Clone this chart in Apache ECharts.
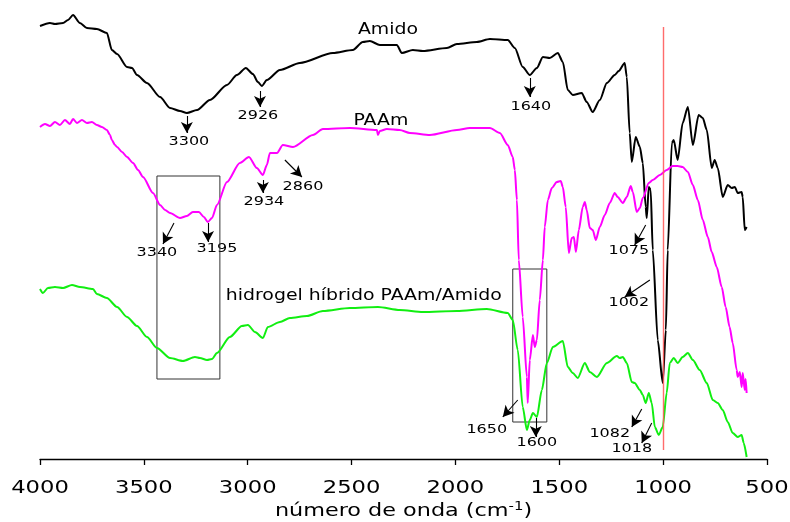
<!DOCTYPE html>
<html>
<head>
<meta charset="utf-8">
<script src="https://cdn.jsdelivr.net/npm/echarts@6/dist/echarts.min.js"></script>
<style>
  html, body { margin: 0; padding: 0; background: #fff; }
  #chart { width: 790px; height: 522px; }
</style>
</head>
<body>
<div id="chart"></div>
<script>
// FTIR spectra: [wavenumber (cm-1), transmittance (arbitrary units, stacked)]
const amido = [
  [4000,433],[3952,436],[3928,435],[3889,436],[3865,439],[3841,444],[3808,436],[3774,431],
  [3726,430],[3678,426],[3654,409],[3629,405],[3581,392],[3557,391],[3533,384],[3485,376],
  [3422,362],[3374,351],[3326,348],[3293,346],[3244,349],[3182,359],[3100,374],[3052,384],
  [3009,391],[2975,385],[2951,377],[2932,373],[2908,379],[2845,389],[2749,396],[2590,406],
  [2494,409],[2446,417],[2412,418],[2364,414],[2282,414],[2258,406],[2205,409],[2157,408],
  [2041,411],[1993,415],[1897,417],[1834,420],[1748,419],[1714,411],[1676,392],[1642,384],
  [1608,391],[1579,402],[1546,401],[1507,406],[1483,397],[1459,369],[1435,364],[1392,366],
  [1368,357],[1339,347],[1305,359],[1271,376],[1233,384],[1214,388],[1185,396],[1175,382],
  [1161,326],[1151,297],[1132,322],[1112,312],[1098,296],[1084,252],[1079,241],[1069,272],
  [1060,269],[1050,209],[1026,119],[1002,76],[987,129],[978,209],[958,316],[949,319],
  [930,299],[906,336],[881,352],[857,314],[829,344],[809,341],[790,329],[766,291],
  [752,299],[737,291],[713,262],[689,274],[670,271],[655,272],[641,266],[622,267],
  [617,262],[607,229],[598,232]
];

const paam = [
  [4000,332],[3976,335],[3952,333],[3928,337],[3904,334],[3880,339],[3856,335],[3841,340],
  [3822,336],[3798,339],[3774,336],[3750,337],[3726,334],[3702,332],[3678,329],[3663,324],
  [3654,319],[3639,314],[3629,312],[3605,307],[3581,302],[3552,296],[3528,289],[3504,282],
  [3456,266],[3422,254],[3398,249],[3374,246],[3326,241],[3293,243],[3264,247],[3235,247],
  [3211,242],[3192,237],[3172,241],[3148,254],[3100,277],[3038,296],[2994,302],[2956,291],
  [2927,284],[2908,294],[2893,306],[2859,306],[2831,314],[2782,312],[2686,324],[2638,330],
  [2508,331],[2378,329],[2373,324],[2364,328],[2330,330],[2268,329],[2219,326],[2123,324],
  [1993,329],[1931,331],[1834,331],[1786,326],[1748,314],[1724,302],[1714,289],[1704,259],
  [1695,199],[1676,142],[1656,82],[1652,56],[1642,99],[1627,124],[1618,112],[1608,119],
  [1594,159],[1579,199],[1570,232],[1555,259],[1536,271],[1512,277],[1493,278],[1483,272],
  [1469,252],[1454,206],[1440,221],[1430,222],[1420,207],[1406,229],[1387,252],[1377,257],
  [1368,249],[1353,231],[1339,229],[1324,219],[1305,232],[1281,244],[1257,256],[1233,266],
  [1219,262],[1194,256],[1175,262],[1156,273],[1146,267],[1127,247],[1112,251],[1098,261],
  [1069,276],[1050,279],[1016,284],[983,289],[954,293],[930,293],[906,292],[881,287],
  [857,274],[833,259],[809,239],[785,222],[766,207],[742,192],[718,172],[699,152],
  [680,132],[665,116],[646,89],[641,82],[631,87],[622,72],[617,86],[607,69],
  [603,80],[598,66]
];

const hidrogel = [
  [4000,170],[3986,166],[3962,171],[3928,172],[3889,171],[3846,174],[3808,172],[3745,170],
  [3726,165],[3678,161],[3629,152],[3581,142],[3533,133],[3485,122],[3437,111],[3374,101],
  [3312,98],[3254,102],[3230,101],[3196,99],[3172,100],[3148,106],[3086,122],[3028,133],
  [2999,134],[2965,127],[2927,121],[2903,132],[2845,137],[2797,141],[2715,143],[2638,148],
  [2508,151],[2373,152],[2268,149],[2157,147],[1993,148],[1849,150],[1748,146],[1724,139],
  [1700,109],[1676,52],[1656,29],[1642,39],[1627,46],[1608,42],[1584,69],[1560,96],
  [1531,112],[1483,118],[1459,92],[1435,86],[1411,81],[1377,96],[1353,87],[1319,82],
  [1271,96],[1223,103],[1209,101],[1194,102],[1175,96],[1151,77],[1137,76],[1112,69],
  [1098,64],[1084,56],[1069,66],[1055,56],[1040,32],[1021,24],[1002,32],[983,66],
  [968,96],[949,101],[930,96],[906,102],[881,106],[857,99],[824,89],[790,76],
  [761,59],[737,56],[713,49],[689,37],[665,26],[641,22],[622,24],[612,16],[598,2]
];

// x-axis ticks (cm-1)
const xTicks = [4000, 3500, 3000, 2500, 2000, 1500, 1000, 500];

// Series names drawn next to each trace: [text, wavenumber, y]
const traceNames = [
  ['Amido', 2325, 429],
  ['PAAm', 2359, 338],
  ['hidrogel híbrido PAAm/Amido', 2441, 163]
];

// Band assignments: [label, labelX, labelY, arrowFromX, arrowFromY, arrowToX, arrowToY]
const bands = [
  ['3300', 3283, 317, 3293, 343, 3293, 326],
  ['2926', 2951, 343, 2941, 368, 2941, 352],
  ['1640', 1637, 352, 1642, 381, 1642, 362],
  ['2934', 2922, 257, 2927, 279, 2927, 266],
  ['2860', 2734, 272, 2821, 299, 2739, 282],
  ['3340', 3437, 206, 3355, 236, 3408, 215],
  ['3195', 3148, 210, 3191, 236, 3191, 217],
  ['1075', 1165, 208, 1084, 234, 1137, 214],
  ['1002', 1165, 156, 1064, 179, 1185, 162],
  ['1650', 1849, 29, 1700, 59, 1772, 42],
  ['1600', 1608, 16, 1613, 41, 1613, 22],
  ['1082', 1257, 25, 1103, 50, 1151, 32],
  ['1018', 1151, 10, 1055, 36, 1103, 16]
];

// Highlighted regions: [x1, y1, x2, y2]
const boxes = [
  [3437, 80, 3134, 283],
  [1724, 37, 1560, 190]
];

// Reference line at 1000 cm-1: [x, yTop, yBottom]
const refLine = [1000, 432, 9];

const FONT = 'DejaVu Sans';
const chart = echarts.init(document.getElementById('chart'), null, { renderer: 'canvas' });

const lineSeries = (name, data, color) => ({
  name, type: 'line', data,
  showSymbol: false, symbol: 'none',
  smooth: 0.25, smoothMonotone: 'x',
  lineStyle: { color, width: 2 },
  itemStyle: { color },
  silent: true, animation: false
});

// Black trace carries the band arrows and the highlighted boxes
const amidoSeries = lineSeries('Amido', amido, '#000000');
amidoSeries.markLine = {
  silent: true,
  symbol: ['none', 'arrow'],
  symbolSize: [9, 11],
  label: { show: false },
  lineStyle: { color: '#000', width: 1.1, type: 'solid' },
  data: bands.map(b => [{ coord: [b[3], b[4]] }, { coord: [b[5], b[6]] }])
};
amidoSeries.markArea = {
  silent: true,
  itemStyle: { color: 'rgba(0,0,0,0)', borderColor: '#333', borderWidth: 1 },
  data: boxes.map(b => [{ coord: [b[0], b[1]] }, { coord: [b[2], b[3]] }])
};

// Magenta trace carries the 1000 cm-1 reference line
const paamSeries = lineSeries('PAAm', paam, '#ff00ff');
paamSeries.markLine = {
  silent: true,
  symbol: ['none', 'none'],
  label: { show: false },
  lineStyle: { color: '#ff5c5c', width: 1.4, type: 'solid', opacity: 0.9 },
  data: [[{ coord: [refLine[0], refLine[1]] }, { coord: [refLine[0], refLine[2]] }]]
};

const option = {
  animation: false,
  backgroundColor: '#ffffff',
  grid: { left: 40, right: 23, top: 0, bottom: 63, containLabel: false },
  xAxis: {
    type: 'value', inverse: true, min: 500, max: 4000, interval: 500,
    axisLine: { show: true, lineStyle: { color: '#000', width: 1.3 } },
    axisTick: { show: true, inside: false, length: 6, lineStyle: { color: '#000', width: 1.3 } },
    splitLine: { show: false },
    axisLabel: { show: false }
  },
  yAxis: { type: 'value', min: 0, max: 459, show: false },
  series: [
    amidoSeries,
    paamSeries,
    lineSeries('hidrogel híbrido PAAm/Amido', hidrogel, '#11ee11')
  ]
};
chart.setOption(option);

// Text placed at data coordinates (wide sans lettering)
const toPx = (x, y) => chart.convertToPixel({ gridIndex: 0 }, [x, y]);
const graphics = [];
const addText = (text, p, size, sx, extra) => {
  graphics.push({
    type: 'text', x: p[0], y: p[1], scaleX: sx, silent: true,
    style: Object.assign({ text, fontFamily: FONT, fontSize: size, fill: '#000', align: 'center', verticalAlign: 'middle' }, extra || {})
  });
};
traceNames.forEach(t => addText(t[0], toPx(t[1], t[2]), 16, 1.18));
bands.forEach(b => addText(b[0], toPx(b[1], b[2]), 12.5, 1.28));

// Tick labels and axis title below the axis line
const axisY = toPx(4000, 0)[1];
xTicks.forEach(v => addText(String(v), [toPx(v, 0)[0], axisY + 29], 18, 1.26));
const mid = (toPx(4000, 0)[0] + toPx(500, 0)[0]) / 2;
addText('número de onda (cm{sup|-1})', [mid, axisY + 52], 18, 1.24, {
  rich: { sup: { fontSize: 12, fontFamily: FONT, fill: '#000', verticalAlign: 'top', padding: [0, 0, 8, 0] } }
});
chart.setOption({ graphic: graphics });
</script>
</body>
</html>
